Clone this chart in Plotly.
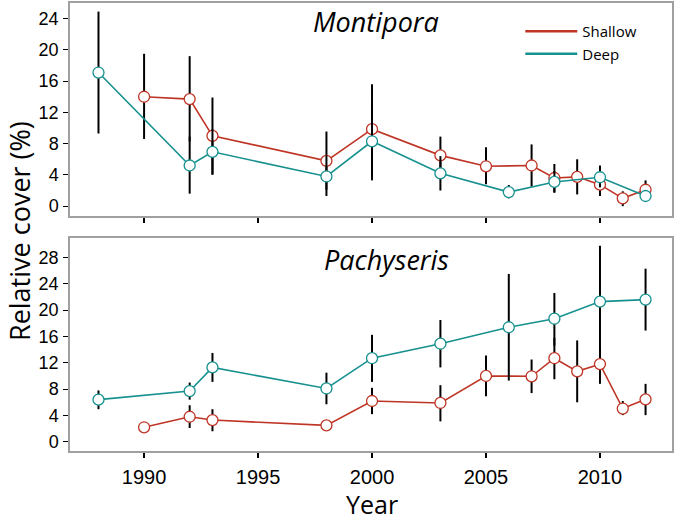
import plotly.graph_objects as go

# Montipora (top panel)
mon_sh_year = [1990, 1992, 1993, 1998, 2000, 2003, 2005, 2007, 2008, 2009, 2010, 2011, 2012]
mon_sh_val = [14.0, 13.7, 9.0, 5.8, 9.85, 6.5, 5.1, 5.2, 3.6, 3.75, 2.75, 1.0, 2.1]
mon_sh_up = [19.5, 19.2, 13.9, 9.55, 15.6, 8.9, 7.55, 7.9, 5.4, 6.0, 4.5, 1.9, 3.3]
mon_sh_lo = [8.6, 8.3, 4.1, 2.1, 4.0, 4.1, 2.8, 2.5, 1.7, 1.5, 1.3, 0.0, 1.0]

mon_dp_year = [1988, 1992, 1993, 1998, 2000, 2003, 2006, 2008, 2010, 2012]
mon_dp_val = [17.1, 5.2, 6.95, 3.8, 8.3, 4.2, 1.8, 3.1, 3.7, 1.3]
mon_dp_up = [24.9, 8.9, 9.85, 6.5, 13.2, 6.4, 2.7, 4.5, 5.2, 2.0]
mon_dp_lo = [9.3, 1.6, 4.0, 1.3, 3.3, 2.0, 1.0, 1.8, 2.4, 0.8]

# Pachyseris (bottom panel)
pac_sh_year = [1990, 1992, 1993, 1998, 2000, 2003, 2005, 2007, 2008, 2009, 2010, 2011, 2012]
pac_sh_val = [2.2, 3.8, 3.3, 2.5, 6.2, 5.9, 10.0, 9.95, 12.7, 10.7, 11.8, 5.05, 6.45]
pac_sh_up = [2.6, 5.55, 4.95, 2.9, 8.2, 8.6, 13.1, 12.5, 15.8, 15.4, 14.6, 6.2, 8.8]
pac_sh_lo = [1.8, 2.1, 1.6, 2.1, 4.2, 3.1, 6.9, 7.4, 9.5, 6.0, 8.8, 4.05, 4.05]

pac_dp_year = [1988, 1992, 1993, 1998, 2000, 2003, 2006, 2008, 2010, 2012]
pac_dp_val = [6.4, 7.7, 11.3, 8.1, 12.7, 14.9, 17.4, 18.7, 21.3, 21.6]
pac_dp_up = [7.8, 9.0, 13.5, 10.5, 16.25, 18.5, 25.5, 22.6, 29.8, 26.3]
pac_dp_lo = [4.95, 6.4, 9.1, 5.7, 9.1, 11.3, 9.3, 14.6, 12.8, 16.9]

top_ticks = [0, 4, 8, 12, 16, 20, 24]
bot_ticks = [0, 4, 8, 12, 16, 20, 24, 28]
x_ticks = [1990, 1995, 2000, 2005, 2010]

RED = "#be3526"
TEAL = "#16918f"

fig = go.Figure()


def add_series(years, vals, up, lo, color, xa, ya):
    fig.add_trace(go.Scatter(
        x=years, y=vals, mode="lines+markers", showlegend=False,
        line=dict(color=color, width=1.6),
        marker=dict(size=11, color="white", line=dict(color=color, width=1.3)),
        error_y=dict(type="data", symmetric=False,
                     array=[u - v for u, v in zip(up, vals)],
                     arrayminus=[v - l for v, l in zip(vals, lo)],
                     color="black", thickness=2, width=0),
        xaxis=xa, yaxis=ya, hoverinfo="skip"))


add_series(mon_sh_year, mon_sh_val, mon_sh_up, mon_sh_lo, RED, "x", "y")
add_series(mon_dp_year, mon_dp_val, mon_dp_up, mon_dp_lo, TEAL, "x", "y")
add_series(pac_sh_year, pac_sh_val, pac_sh_up, pac_sh_lo, RED, "x2", "y2")
add_series(pac_dp_year, pac_dp_val, pac_dp_up, pac_dp_lo, TEAL, "x2", "y2")

# legend entries
fig.add_trace(go.Scatter(x=[None], y=[None], mode="lines", name="Shallow",
                         line=dict(color=RED, width=2.5), xaxis="x", yaxis="y"))
fig.add_trace(go.Scatter(x=[None], y=[None], mode="lines", name="Deep",
                         line=dict(color=TEAL, width=2.5), xaxis="x", yaxis="y"))

FONT = "Liberation Sans, Arial, sans-serif"
TFONT = "Open Sans, sans-serif"
xcommon = dict(range=[1986.75, 2013.16], tickvals=x_ticks, ticks="outside",
               ticklen=5, tickwidth=1.5, tickcolor="black", showline=True,
               linecolor="#a0a0a0", linewidth=1.5, mirror=True, showgrid=False,
               zeroline=False)
ycommon = dict(ticks="outside", ticklen=5, tickwidth=1, tickcolor="black",
               showline=True, linecolor="#a0a0a0", linewidth=1.5, mirror=True,
               showgrid=False, zeroline=False, tickfont=dict(size=18, color="black"),
               ticklabelstandoff=1)

fig.update_layout(
    width=675, height=521,
    margin=dict(l=70, r=2, t=1, b=70),
    paper_bgcolor="white", plot_bgcolor="white",
    font=dict(family=FONT, color="black"),
    xaxis=dict(xcommon, domain=[0, 1], anchor="y", showticklabels=False),
    yaxis=dict(ycommon, domain=[0.5244, 1.0], range=[-1.27, 26.0],
               tickvals=top_ticks, anchor="x"),
    xaxis2=dict(xcommon, domain=[0, 1], anchor="y2",
                tickfont=dict(size=20, color="black"), ticklabelstandoff=2),
    yaxis2=dict(ycommon, domain=[0, 0.476], range=[-1.4, 31.0],
                tickvals=bot_ticks, anchor="x2"),
    legend=dict(x=0.748, y=0.973, xanchor="left", yanchor="top",
                bgcolor="rgba(0,0,0,0)", font=dict(size=15, family=TFONT),
                tracegroupgap=0, itemwidth=52),
    annotations=[
        dict(text="Montipora", x=0.509, y=0.959, xref="paper", yref="paper",
             xanchor="center", yanchor="middle", showarrow=False,
             font=dict(size=27, family=TFONT, style="italic")),
        dict(text="Pachyseris", x=0.5257, y=0.4284, xref="paper", yref="paper",
             xanchor="center", yanchor="middle", showarrow=False,
             font=dict(size=27, family=TFONT, style="italic")),
        dict(text="Relative cover (%)", x=0, y=0.491, xref="paper", yref="paper",
             xanchor="center", yanchor="middle", xshift=-51, textangle=-90,
             showarrow=False, font=dict(size=27, family=TFONT)),
        dict(text="Year", x=0.5015, y=0, xref="paper", yref="paper",
             xanchor="center", yanchor="middle", yshift=-53,
             showarrow=False, font=dict(size=25, family=TFONT)),
    ],
)

fig.write_html("out.html", config={"displayModeBar": False},
               post_script="document.body.style.margin='0';")
